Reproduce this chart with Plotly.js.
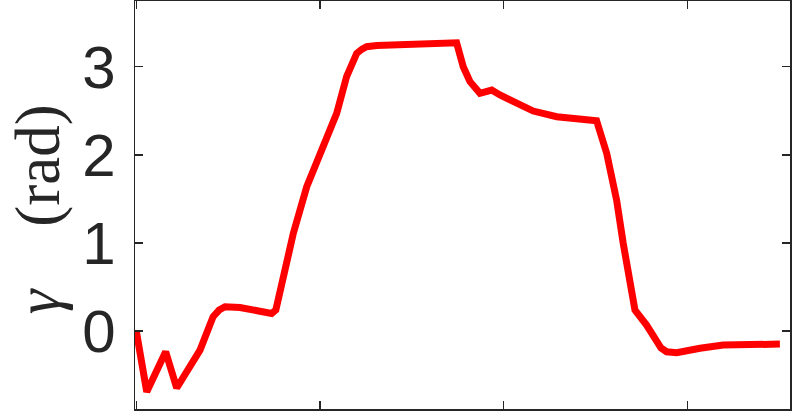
<!DOCTYPE html>
<html>
<head>
<meta charset="utf-8">
<script src="https://cdn.plot.ly/plotly-3.0.1.min.js"></script>
<style>
  html, body { margin: 0; padding: 0; background: #fff; }
  #myDiv { width: 793px; height: 416px; }
</style>
</head>
<body>
<div id="myDiv"></div>
<script>
// time samples
var t = [0, 0.057, 0.160, 0.220, 0.347, 0.418, 0.451, 0.483, 0.565, 0.619,
         0.737, 0.760, 0.855, 0.928, 1.000, 1.054, 1.091, 1.145, 1.172, 1.200,
         1.229, 1.254, 1.309, 1.435, 1.744, 1.780, 1.817, 1.871, 1.935, 1.980,
         2.071, 2.161, 2.289, 2.415, 2.506, 2.561, 2.615, 2.651, 2.688, 2.715,
         2.778, 2.833, 2.857, 2.887, 2.910, 2.942, 3.069, 3.195, 3.504];
// gamma (rad)
var gamma = [0, -0.69, -0.235, -0.647, -0.216, 0.162, 0.238, 0.276, 0.267, 0.244,
             0.20, 0.24, 1.109, 1.638, 2.017, 2.281, 2.471, 2.887, 3.04, 3.152,
             3.20, 3.227, 3.24, 3.254, 3.272, 3.0, 2.83, 2.698, 2.735, 2.679,
             2.585, 2.497, 2.432, 2.403, 2.387, 2.017, 1.487, 0.995, 0.541, 0.238,
             0.068, -0.14, -0.193, -0.235, -0.246, -0.246, -0.196, -0.159, -0.148];
var xticks = [0, 1, 2, 3];
var yticks = [0, 1, 2, 3];

var axcol = '#262626';

var trace = {
    x: t,
    y: gamma,
    type: 'scatter',
    mode: 'lines',
    line: {color: '#ff0000', width: 7},
    showlegend: false
};

var layout = {
    width: 793,
    height: 416,
    margin: {l: 135, r: 3, t: 1, b: 7},
    paper_bgcolor: '#ffffff',
    plot_bgcolor: '#ffffff',
    xaxis: {
        range: [-0.007, 3.559],
        tickvals: xticks,
        showticklabels: false,
        ticks: 'inside',
        ticklen: 8,
        tickwidth: 1.5,
        tickcolor: axcol,
        showline: true,
        linecolor: axcol,
        linewidth: 1.5,
        mirror: 'ticks',
        showgrid: false,
        zeroline: false
    },
    yaxis: {
        range: [-0.885, 3.746],
        tickvals: yticks,
        ticks: 'inside',
        ticklen: 8,
        tickwidth: 1.5,
        tickcolor: axcol,
        ticklabelstandoff: 6,
        tickfont: {family: 'Liberation Sans, Arial, sans-serif', size: 60, color: axcol},
        showline: true,
        linecolor: axcol,
        linewidth: 1.5,
        mirror: 'ticks',
        showgrid: false,
        zeroline: false
    },
    annotations: [{
        // y label, placed by hand as in the figure
        text: '<i>\u03b3</i>\u00a0\u00a0\u00a0\u00a0(rad)',
        font: {family: 'Liberation Serif, Times New Roman, serif', size: 63, color: axcol},
        textangle: -90,
        xref: 'paper',
        yref: 'paper',
        x: -0.204,
        y: 0.49,
        xanchor: 'left',
        yanchor: 'middle',
        showarrow: false
    }]
};

Plotly.newPlot('myDiv', [trace], layout, {staticPlot: true, displayModeBar: false});
</script>
</body>
</html>
